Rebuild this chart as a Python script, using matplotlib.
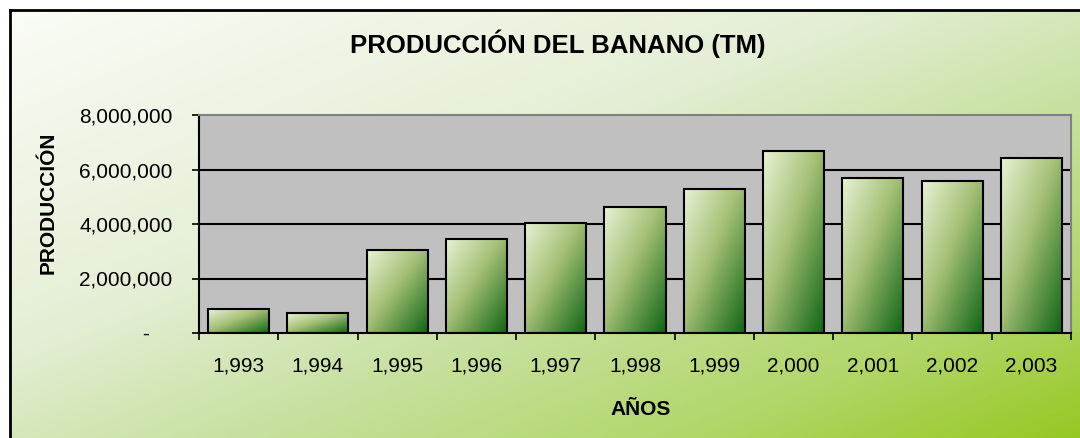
import numpy as np
import matplotlib
matplotlib.use('Agg')
import matplotlib.pyplot as plt
from matplotlib.colors import LinearSegmentedColormap
from matplotlib.ticker import FuncFormatter, FixedLocator

plt.rcParams['font.family'] = ['Liberation Sans', 'DejaVu Sans']

# datos
years = ['1,993', '1,994', '1,995', '1,996', '1,997', '1,998',
         '1,999', '2,000', '2,001', '2,002', '2,003']
production = [870000, 730000, 3030000, 3460000, 4050000, 4630000,
              5290000, 6670000, 5700000, 5560000, 6430000]
yticks = [0, 2000000, 4000000, 6000000, 8000000]

title = 'PRODUCCIÓN DEL BANANO (TM)'
ylabel = 'PRODUCCIÓN'
xlabel = 'AÑOS'

W, H = 1080, 438
fig = plt.figure(figsize=(W / 100, H / 100), dpi=100, facecolor='white')

# fondo con degradado (blanco -> verde)
bg_cmap = LinearSegmentedColormap.from_list('bg', [
    (0.0, (250/255, 252/255, 246/255)),
    (0.4, (228/255, 238/255, 212/255)),
    (0.6, (200/255, 225/255, 162/255)),
    (0.82, (178/255, 214/255, 105/255)),
    (1.0, (150/255, 200/255, 35/255)),
])
bg = fig.add_axes([10 / W, 0, 1 - 10 / W, 1 - 10 / H], zorder=-1)
gx, gy = np.meshgrid(np.linspace(0, 1, 400), np.linspace(0, 1, 200))
bg.imshow((gx + gy) / 2, cmap=bg_cmap, aspect='auto', extent=(0, 1, 1, 0),
          origin='upper', vmin=0, vmax=1)
bg.set_xticks([])
bg.set_yticks([])
for s in ['right', 'bottom']:
    bg.spines[s].set_visible(False)
for s in ['left', 'top']:
    bg.spines[s].set_linewidth(2)
    bg.spines[s].set_color('black')

# area de trazado
ax = fig.add_axes([199 / W, 1 - 333 / H, 872 / W, 218 / H])
ax.set_facecolor('#C0C0C0')
x = np.arange(len(years))
ax.set_xlim(-0.5, len(years) - 0.5)
ax.set_ylim(yticks[0], yticks[-1])
ax.set_autoscale_on(False)

for yv in yticks[1:-1]:
    ax.axhline(yv, color='black', lw=1.5, zorder=1)

bar_cmap = LinearSegmentedColormap.from_list('bar', [
    (0.0, (232/255, 242/255, 212/255)),
    (0.45, (165/255, 192/255, 118/255)),
    (1.0, (15/255, 100/255, 20/255)),
])
bars = ax.bar(x, production, width=0.77, facecolor='none',
              edgecolor='black', linewidth=1.5, zorder=3)
u, v = np.meshgrid(np.linspace(0, 1, 60), np.linspace(0, 1, 120))
grad = (u + v) / 2
for b in bars:
    x0, y0 = b.get_x(), b.get_y()
    im = ax.imshow(grad, cmap=bar_cmap, aspect='auto', origin='upper',
                   extent=(x0, x0 + b.get_width(), y0, y0 + b.get_height()),
                   zorder=2, vmin=0, vmax=1)
    im.set_clip_path(b)

for s in ['left', 'bottom']:
    ax.spines[s].set_color('black')
    ax.spines[s].set_linewidth(1.5)
for s in ['top', 'right']:
    ax.spines[s].set_color('#808080')
    ax.spines[s].set_linewidth(1.5)

# formato contable: el cero se muestra como un guion desplazado
ax.set_yticks(yticks)
ax.yaxis.set_major_formatter(FuncFormatter(lambda val, pos: '-    ' if val == 0 else f'{val:,.0f}'))
ax.tick_params(axis='y', direction='out', length=5, width=1.2, pad=14, labelsize=15)

ax.xaxis.set_major_locator(FixedLocator(np.arange(len(years) + 1) - 0.5))
ax.xaxis.set_minor_locator(FixedLocator(x))
ax.xaxis.set_major_formatter(FuncFormatter(lambda val, pos: ''))
ax.set_xticklabels(years, minor=True)
ax.tick_params(axis='x', which='major', direction='out', length=5, width=1.2)
ax.tick_params(axis='x', which='minor', length=0, pad=17, labelsize=15)

ax.set_ylabel(ylabel, fontsize=15, fontweight='bold')
ax.yaxis.set_label_coords(-0.162, 0.595)
ax.set_xlabel(xlabel, fontsize=15, fontweight='bold')
ax.xaxis.set_label_coords(0.506, -0.307)

fig.text(558 / W, 1 - 44 / H, title, fontsize=18.5, fontweight='bold',
         ha='center', va='center')

fig.savefig('out.png', dpi=100)
